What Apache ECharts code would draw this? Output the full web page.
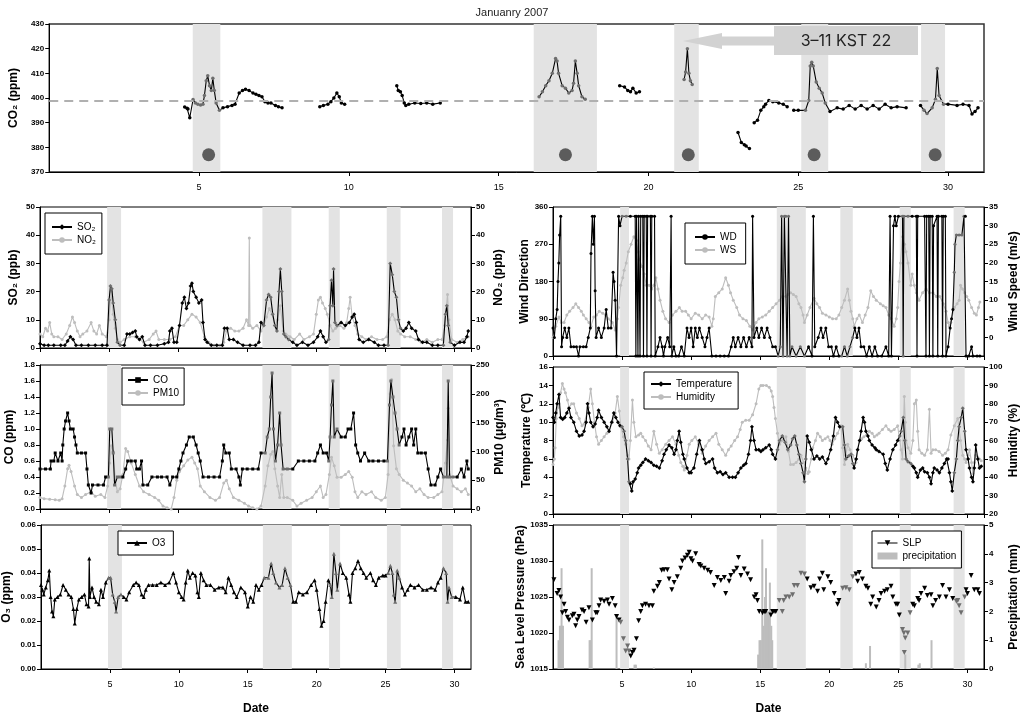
<!DOCTYPE html>
<html><head><meta charset="utf-8">
<script src="https://cdn.jsdelivr.net/npm/echarts@6/dist/echarts.min.js"></script>
<style>html,body{margin:0;padding:0;background:#fff}#c{width:1024px;height:716px}</style>
</head><body><div id="c"></div>
<script>
// ---------------- DATA (day of January 2007, value) ----------------
const bandsTop = [[4.79,5.71],[16.17,18.28],[20.86,21.68],[25.1,26.0],[29.1,29.9]];
const bandsLeft = [[4.86,5.87],[16.1,18.2],[20.9,21.7],[25.1,26.1],[29.1,29.9]];
const bandsRight = [[4.86,5.5],[16.2,18.3],[20.8,21.7],[25.1,25.9],[29.0,29.8]];
const co2Baseline = 399;
const eventDots = [[5.32,377],[17.23,377],[21.33,377],[25.53,377],[29.57,377]];
const co2Segments = [
 [[4.52,396.4],[4.6,395.8],[4.63,395.5],[4.69,392],[4.8,399.4],[4.88,398],[4.96,397.5],[5.05,397.2],[5.13,397.5],[5.18,401],[5.24,407],[5.29,409],[5.35,405],[5.41,403],[5.46,408],[5.51,403],[5.57,398],[5.68,395],[5.8,396],[5.95,396.5],[6.1,397],[6.2,397.5],[6.34,402],[6.45,403],[6.55,403.5],[6.67,403],[6.8,402],[6.9,401.5],[7.0,401],[7.1,400.5],[7.2,398.5],[7.3,398],[7.4,398],[7.55,397],[7.65,396.5],[7.77,396]],
 [[9.03,396.5],[9.15,397],[9.3,397.5],[9.4,398.5],[9.5,400],[9.6,402],[9.68,400.5],[9.75,398],[9.86,397.5]],
 [[11.6,405],[11.65,403],[11.72,402.5],[11.78,401],[11.85,398],[11.9,397],[12.0,397.5],[12.2,398],[12.4,397.8],[12.6,398],[12.8,397.5],[13.05,398]],
 [[16.35,400.5],[16.46,402.5],[16.57,405],[16.68,407],[16.79,410],[16.9,416],[16.95,415],[17.0,410],[17.12,405],[17.23,404],[17.34,402],[17.45,403],[17.5,406],[17.56,415],[17.62,410],[17.67,405],[17.78,400.5],[17.89,399.5]],
 [[19.04,405],[19.2,404.5],[19.31,403],[19.4,402.5],[19.48,404],[19.59,402],[19.7,402.5]],
 [[21.19,407.5],[21.24,410.5],[21.3,420],[21.35,410],[21.4,407],[21.46,405.5]],
 [[22.99,386],[23.1,382],[23.2,381],[23.26,380.5],[23.37,379.5]],
 [[23.53,390],[23.64,391],[23.75,395],[23.85,396.5],[23.91,397.5],[24.02,399],[24.15,398.5],[24.35,398],[24.5,397.5],[24.63,396.5]],
 [[24.85,395],[25.0,395],[25.24,395],[25.35,399],[25.4,413],[25.45,414.5],[25.5,413],[25.6,406.5],[25.7,404],[25.8,402],[25.9,398],[26.06,394.5],[26.3,396],[26.5,395.5],[26.7,397],[26.9,395.5],[27.1,397],[27.3,395.5],[27.5,397],[27.7,395.5],[27.9,397.5],[28.1,396],[28.3,396.5],[28.6,396]],
 [[29.08,397],[29.2,395],[29.3,393.7],[29.47,396],[29.58,399.5],[29.64,412],[29.7,401],[29.85,397.5],[30.0,397.5],[30.3,397],[30.5,397.5],[30.7,397],[30.8,393.5],[30.9,394.5],[31.0,396]]
];
const so2 = [[0,1.5],[0.3,1],[0.6,1],[1.0,1],[1.5,1],[1.8,1],[2.0,2.5],[2.2,4],[2.4,3],[2.6,1],[3.0,1],[3.5,1],[4.0,1],[4.5,1],[4.85,1],[5.0,17],[5.1,22],[5.2,21],[5.3,16],[5.45,10],[5.6,2],[5.8,1],[6.1,1],[6.3,5],[6.5,5],[6.7,5.5],[6.9,6],[7.0,4],[7.2,3],[7.4,4],[7.6,1],[8.0,1],[8.5,1],[9.0,1.5],[9.3,2],[9.4,6],[9.55,7],[9.7,2],[9.9,2],[10.1,8],[10.3,16],[10.45,18],[10.6,14],[10.75,16],[10.9,22],[11.0,23],[11.1,20],[11.3,18],[11.5,16],[11.7,17],[11.8,9],[11.95,3],[12.1,2],[12.4,1],[12.8,1],[13.2,1],[13.35,7],[13.55,7],[13.7,3],[14.0,3],[14.3,2],[14.7,1],[15.2,1],[15.6,1],[15.85,2],[16.0,9],[16.2,8],[16.4,17],[16.55,19],[16.7,18],[16.85,12],[17.0,8],[17.15,6],[17.3,20],[17.4,28],[17.5,20],[17.65,5],[17.8,4],[18.0,3],[18.3,2],[18.6,1],[19.0,2],[19.4,1],[19.8,2],[20.1,4],[20.3,6],[20.5,4],[20.7,2],[20.9,3],[21.0,15],[21.1,24],[21.2,15],[21.25,28],[21.35,9],[21.5,8],[21.8,9],[22.1,8],[22.4,9],[22.6,11],[22.75,12],[22.9,9],[23.1,3],[23.4,2],[23.8,3],[24.2,2],[24.5,1],[24.9,1],[25.2,1],[25.35,30],[25.5,26],[25.65,20],[25.8,18],[25.95,10],[26.1,7],[26.3,6],[26.5,7],[26.7,9],[26.9,7],[27.2,6],[27.4,3],[27.7,2],[28.0,2],[28.4,1],[28.8,1],[29.2,1],[29.35,12],[29.45,15],[29.55,8],[29.7,2],[30.0,1],[30.4,2],[30.7,2],[30.9,4],[31.0,6]];
const no2 = [[0,5],[0.2,4],[0.4,7],[0.55,6],[0.7,9],[0.85,5],[1.0,4],[1.3,4],[1.6,3],[1.9,5],[2.15,8],[2.35,11],[2.5,9],[2.7,6],[2.9,4],[3.1,5],[3.4,6],[3.7,9],[3.9,6],[4.1,5],[4.3,8],[4.5,5],[4.8,4],[5.0,10],[5.15,20],[5.3,12],[5.45,7],[5.6,3],[5.8,2],[6.1,3],[6.5,4],[6.9,4],[7.2,3],[7.5,2],[7.9,3],[8.2,5],[8.4,6],[8.6,3],[9.0,3],[9.4,3],[9.8,4],[10.1,8],[10.4,8],[10.7,10],[11.0,12],[11.3,11],[11.6,9],[11.9,4],[12.2,2],[12.6,1],[13.0,1],[13.3,2],[13.5,6],[13.8,7],[14.1,6],[14.4,6],[14.7,7],[14.95,10],[15.1,8],[15.15,39],[15.2,8],[15.4,7],[15.7,8],[16.0,6],[16.2,8],[16.4,11],[16.6,14],[16.8,12],[17.0,8],[17.2,10],[17.4,15],[17.6,6],[17.8,5],[18.1,4],[18.4,3],[18.8,5],[19.1,3],[19.5,4],[19.8,5],[20.0,12],[20.15,17],[20.3,18],[20.45,16],[20.65,14],[20.8,12],[21.0,8],[21.2,6],[21.4,7],[21.7,8],[22.0,7],[22.2,9],[22.35,14],[22.45,18],[22.6,11],[22.8,8],[23.0,5],[23.3,4],[23.6,3],[24.0,4],[24.4,3],[24.8,3],[25.1,4],[25.3,10],[25.5,12],[25.7,10],[25.9,6],[26.1,5],[26.4,4],[26.8,4],[27.2,3],[27.6,2],[28.0,3],[28.4,2],[28.8,3],[29.1,3],[29.3,8],[29.5,19],[29.6,10],[29.8,3],[30.2,2],[30.6,3],[31.0,4]];
const co = [[0,0.5],[0.4,0.5],[0.75,0.5],[0.8,0.6],[1.0,0.6],[1.1,0.7],[1.3,0.6],[1.5,0.7],[1.6,0.6],[1.65,0.8],[1.75,1.0],[1.85,1.1],[2.0,1.2],[2.1,1.1],[2.2,1.0],[2.4,1.0],[2.5,0.9],[2.6,0.8],[2.7,0.7],[3.0,0.7],[3.3,0.7],[3.4,0.5],[3.5,0.3],[3.7,0.2],[3.8,0.3],[4.2,0.3],[4.6,0.3],[4.75,0.4],[4.95,0.4],[5.05,1.0],[5.2,1.0],[5.3,0.7],[5.4,0.3],[5.6,0.4],[5.8,0.4],[6.0,0.4],[6.2,0.5],[6.35,0.6],[6.6,0.6],[6.9,0.6],[7.0,0.5],[7.2,0.5],[7.35,0.6],[7.45,0.3],[7.8,0.3],[8.1,0.4],[8.5,0.4],[8.8,0.4],[9.2,0.4],[9.4,0.3],[9.6,0.4],[9.9,0.4],[10.05,0.5],[10.2,0.6],[10.35,0.7],[10.6,0.8],[10.8,0.9],[11.1,0.9],[11.3,0.8],[11.45,0.7],[11.6,0.6],[11.8,0.4],[12.2,0.4],[12.6,0.4],[13.0,0.4],[13.2,0.6],[13.3,0.8],[13.45,0.7],[13.7,0.7],[13.85,0.5],[14.2,0.5],[14.4,0.4],[14.5,0.3],[14.65,0.5],[15.0,0.5],[15.4,0.5],[15.8,0.5],[16.0,0.7],[16.3,0.7],[16.45,0.9],[16.6,1.0],[16.7,1.4],[16.8,1.7],[16.9,1.0],[17.05,0.6],[17.2,0.8],[17.35,1.2],[17.45,0.8],[17.6,0.5],[17.9,0.5],[18.3,0.5],[18.7,0.6],[19.1,0.6],[19.5,0.6],[19.9,0.6],[20.1,0.7],[20.3,0.8],[20.5,0.7],[20.75,0.7],[20.9,0.6],[21.0,0.9],[21.1,1.3],[21.2,1.6],[21.3,0.9],[21.5,1.0],[21.8,0.9],[22.1,0.9],[22.3,1.0],[22.5,1.0],[22.7,1.2],[22.85,0.8],[23.0,0.7],[23.2,0.6],[23.5,0.7],[23.8,0.6],[24.1,0.6],[24.5,0.6],[24.9,0.6],[25.15,0.6],[25.3,1.3],[25.4,1.6],[25.55,1.4],[25.7,1.2],[25.85,1.0],[26.0,0.8],[26.2,0.9],[26.35,1.0],[26.5,0.8],[26.7,0.9],[26.9,1.0],[27.05,0.8],[27.2,1.0],[27.35,0.7],[27.6,0.7],[27.9,0.7],[28.1,0.5],[28.3,0.3],[28.6,0.3],[28.8,0.4],[29.0,0.5],[29.2,0.4],[29.45,0.4],[29.55,1.6],[29.65,0.4],[29.9,0.4],[30.2,0.4],[30.5,0.5],[30.7,0.4],[30.9,0.6],[31.0,0.5]];
const pm10 = [[0,20],[0.3,18],[0.7,17],[1.1,16],[1.4,15],[1.6,18],[1.8,40],[2.0,70],[2.1,76],[2.25,65],[2.5,40],[2.7,25],[3.0,20],[3.3,25],[3.7,30],[4.0,22],[4.4,25],[4.7,20],[4.9,40],[5.05,80],[5.15,110],[5.3,100],[5.45,50],[5.6,30],[5.8,35],[6.0,60],[6.2,105],[6.35,100],[6.6,80],[6.9,60],[7.2,40],[7.5,30],[7.9,25],[8.3,20],[8.6,15],[8.9,5],[9.2,2],[9.5,0],[9.7,20],[9.9,50],[10.1,65],[10.4,75],[10.7,85],[11.0,90],[11.2,80],[11.4,70],[11.6,40],[11.9,30],[12.3,20],[12.7,15],[13.0,20],[13.3,45],[13.5,50],[13.7,35],[14.0,20],[14.4,15],[14.8,10],[15.1,5],[15.4,2],[15.7,0],[16.0,5],[16.3,40],[16.5,75],[16.7,95],[16.85,100],[17.0,70],[17.2,40],[17.35,20],[17.5,60],[17.65,20],[17.9,20],[18.3,15],[18.6,5],[18.9,10],[19.3,15],[19.7,20],[20.0,30],[20.3,40],[20.5,20],[20.7,25],[20.95,60],[21.1,90],[21.3,75],[21.5,55],[21.8,55],[22.1,60],[22.35,65],[22.6,55],[22.8,30],[23.0,20],[23.3,30],[23.6,25],[24.0,30],[24.3,20],[24.7,15],[25.0,20],[25.2,60],[25.35,200],[25.45,225],[25.6,110],[25.8,70],[26.0,60],[26.3,50],[26.6,45],[26.9,40],[27.2,30],[27.5,35],[27.8,25],[28.1,20],[28.5,20],[28.8,25],[29.1,30],[29.35,80],[29.5,120],[29.55,175],[29.65,60],[29.9,40],[30.2,35],[30.5,30],[30.8,35],[31.0,25]];
const o3 = [[0,0.035],[0.1,0.033],[0.2,0.031],[0.35,0.034],[0.5,0.037],[0.6,0.041],[0.7,0.030],[0.8,0.024],[0.9,0.022],[1.0,0.029],[1.2,0.030],[1.4,0.031],[1.6,0.035],[1.8,0.033],[2.0,0.031],[2.2,0.030],[2.35,0.025],[2.45,0.019],[2.6,0.025],[2.75,0.029],[2.95,0.030],[3.15,0.031],[3.3,0.027],[3.45,0.026],[3.5,0.046],[3.55,0.030],[3.7,0.034],[3.85,0.030],[4.0,0.028],[4.2,0.027],[4.35,0.033],[4.5,0.030],[4.7,0.036],[4.9,0.038],[5.05,0.038],[5.2,0.031],[5.35,0.028],[5.45,0.024],[5.6,0.030],[5.8,0.031],[6.0,0.030],[6.2,0.029],[6.4,0.032],[6.7,0.035],[6.9,0.036],[7.1,0.035],[7.3,0.031],[7.45,0.030],[7.6,0.033],[7.8,0.035],[8.1,0.035],[8.4,0.035],[8.7,0.036],[9.0,0.035],[9.3,0.036],[9.6,0.040],[9.8,0.036],[10.0,0.032],[10.2,0.030],[10.35,0.029],[10.5,0.036],[10.65,0.041],[10.8,0.038],[11.0,0.040],[11.2,0.039],[11.35,0.032],[11.45,0.030],[11.6,0.040],[11.8,0.037],[12.0,0.035],[12.3,0.035],[12.6,0.033],[12.9,0.034],[13.2,0.034],[13.4,0.032],[13.6,0.038],[13.8,0.035],[14.0,0.032],[14.2,0.030],[14.5,0.034],[14.8,0.032],[15.0,0.026],[15.2,0.030],[15.4,0.028],[15.6,0.035],[15.8,0.033],[16.0,0.035],[16.2,0.038],[16.5,0.038],[16.7,0.044],[16.85,0.040],[17.05,0.036],[17.3,0.034],[17.5,0.035],[17.7,0.042],[17.9,0.038],[18.1,0.035],[18.3,0.028],[18.5,0.028],[18.7,0.032],[19.0,0.031],[19.3,0.032],[19.6,0.035],[19.85,0.037],[20.0,0.033],[20.2,0.025],[20.35,0.018],[20.5,0.020],[20.65,0.028],[20.85,0.037],[21.0,0.035],[21.1,0.030],[21.25,0.048],[21.4,0.040],[21.5,0.033],[21.7,0.044],[21.9,0.040],[22.15,0.038],[22.35,0.031],[22.45,0.028],[22.6,0.040],[22.8,0.042],[23.0,0.045],[23.2,0.042],[23.4,0.040],[23.6,0.038],[23.9,0.040],[24.1,0.037],[24.3,0.035],[24.5,0.038],[24.8,0.039],[25.0,0.039],[25.2,0.040],[25.35,0.043],[25.5,0.040],[25.6,0.031],[25.7,0.028],[25.85,0.041],[26.0,0.038],[26.2,0.034],[26.4,0.031],[26.6,0.033],[26.8,0.035],[27.1,0.034],[27.4,0.035],[27.7,0.033],[28.0,0.033],[28.3,0.034],[28.6,0.033],[28.8,0.036],[29.0,0.038],[29.2,0.042],[29.4,0.040],[29.5,0.028],[29.6,0.034],[29.8,0.030],[30.1,0.030],[30.4,0.029],[30.6,0.034],[30.8,0.028],[31.0,0.028]];
const wd = [[0,67.5],[0.1,45],[0.2,90],[0.3,112.5],[0.36,180],[0.42,225],[0.48,292.5],[0.56,337.5],[0.62,22.5],[0.7,45],[0.85,67.5],[1.0,45],[1.15,67.5],[1.3,22.5],[1.5,22.5],[1.7,22.5],[1.85,0],[1.95,22.5],[2.2,22.5],[2.4,22.5],[2.55,45],[2.7,67.5],[2.75,247.5],[2.85,337.5],[2.92,270],[3.0,337.5],[3.05,157.5],[3.12,45],[3.3,67.5],[3.5,45],[3.7,67.5],[3.85,112.5],[4.0,67.5],[4.2,67.5],[4.35,202.5],[4.42,180],[4.5,135],[4.6,0],[4.75,337.5],[4.85,315],[5.0,337.5],[5.3,337.5],[5.6,337.5],[5.95,337.5],[6.0,0],[6.05,337.5],[6.15,0],[6.2,337.5],[6.3,0],[6.35,337.5],[6.5,337.5],[6.55,0],[6.6,337.5],[6.75,337.5],[6.8,0],[6.85,337.5],[7.05,337.5],[7.1,0],[7.15,337.5],[7.35,337.5],[7.4,0],[7.6,22.5],[7.75,45],[7.9,22.5],[8.0,0],[8.1,22.5],[8.3,45],[8.45,22.5],[8.55,337.5],[8.6,0],[8.75,22.5],[8.9,0],[9.1,0],[9.3,22.5],[9.5,0],[9.7,67.5],[9.85,45],[10.0,67.5],[10.15,22.5],[10.3,67.5],[10.45,45],[10.6,67.5],[10.8,45],[11.0,22.5],[11.15,45],[11.3,67.5],[11.5,0],[11.8,0],[12.1,0],[12.4,0],[12.7,0],[12.9,22.5],[13.05,45],[13.2,22.5],[13.4,45],[13.6,22.5],[13.8,45],[14.0,22.5],[14.2,45],[14.4,22.5],[14.45,337.5],[14.55,45],[14.75,67.5],[14.9,45],[15.1,67.5],[15.3,45],[15.5,67.5],[15.7,45],[15.9,22.5],[16.1,22.5],[16.3,0],[16.45,22.5],[16.55,337.5],[16.65,0],[16.75,337.5],[16.85,337.5],[16.95,0],[17.05,337.5],[17.15,0],[17.3,22.5],[17.6,0],[17.9,22.5],[18.2,0],[18.5,22.5],[18.75,0],[18.85,337.5],[18.95,22.5],[19.2,45],[19.4,67.5],[19.55,45],[19.75,67.5],[19.95,22.5],[20.15,22.5],[20.3,0],[20.5,22.5],[20.7,0],[20.9,0],[21.1,22.5],[21.3,0],[21.5,22.5],[21.7,45],[21.85,67.5],[22.0,45],[22.15,67.5],[22.3,22.5],[22.5,22.5],[22.7,0],[22.9,22.5],[23.1,0],[23.3,22.5],[23.5,0],[23.8,0],[24.1,22.5],[24.3,0],[24.4,337.5],[24.5,0],[24.65,315],[24.75,337.5],[24.85,315],[25.0,337.5],[25.3,337.5],[25.35,0],[25.4,337.5],[25.7,337.5],[26.0,337.5],[26.3,337.5],[26.35,0],[26.4,337.5],[26.9,337.5],[27.0,0],[27.05,337.5],[27.2,337.5],[27.25,0],[27.3,337.5],[27.45,337.5],[27.5,0],[27.55,315],[27.8,337.5],[27.85,0],[27.9,337.5],[28.15,337.5],[28.2,0],[28.25,337.5],[28.4,337.5],[28.45,0],[28.6,22.5],[28.75,67.5],[28.85,90],[28.95,112.5],[29.05,202.5],[29.1,270],[29.2,292.5],[29.4,292.5],[29.6,292.5],[29.75,337.5],[29.85,337.5],[29.9,0],[30.1,0],[30.3,22.5],[30.4,0],[30.7,0],[30.9,0]];
const ws = [[0,0],[0.2,3],[0.43,5.5],[0.6,4],[0.8,4],[1.0,6],[1.2,7],[1.45,8],[1.65,9],[1.85,8],[2.05,7],[2.2,6],[2.4,5],[2.6,4],[2.75,3],[2.95,5.5],[3.15,6],[3.35,7],[3.6,6.5],[3.8,6],[4.0,5],[4.3,4],[4.5,2],[4.65,5],[4.75,8],[4.9,14],[5.05,16],[5.15,18],[5.3,20],[5.45,23],[5.65,25],[5.85,27],[6.05,26],[6.15,23],[6.25,21],[6.45,19],[6.6,17],[6.75,14],[6.95,14],[7.15,13],[7.3,14],[7.45,16],[7.6,13],[7.75,10],[7.95,7],[8.15,5],[8.4,4],[8.65,6],[8.9,7],[9.15,8],[9.35,7],[9.6,7],[9.8,6],[10.0,5],[10.3,6.5],[10.55,6],[10.8,5],[11.05,6],[11.3,5.5],[11.5,3],[11.6,5],[11.75,11],[12.0,12],[12.25,13],[12.5,16],[12.7,14],[12.85,12],[13.05,10],[13.3,8],[13.5,6],[13.75,5],[14.0,4.5],[14.25,3],[14.45,2],[14.7,4],[14.9,5],[15.15,5.5],[15.4,6],[15.65,7],[15.9,8],[16.15,9],[16.4,10],[16.6,11],[16.86,11],[17.0,11.5],[17.2,12],[17.4,11.5],[17.6,11],[17.8,9],[17.95,8],[18.1,6],[18.2,4],[18.4,6],[18.6,8],[18.9,10.5],[19.1,9],[19.3,8],[19.5,6.5],[19.76,6],[20.0,5.5],[20.24,5],[20.5,5],[20.7,6],[20.9,8],[21.1,10],[21.33,13],[21.45,10],[21.57,7],[21.7,5],[21.8,3],[22.0,5],[22.17,6],[22.4,4],[22.6,6],[22.8,8],[23.0,12.5],[23.2,11],[23.4,10],[23.7,9],[23.9,8.5],[24.1,8],[24.3,6],[24.47,5],[24.7,3],[24.85,5],[24.95,8],[25.05,15],[25.15,20],[25.3,27],[25.45,25],[25.55,23],[25.7,20],[25.9,14],[26.0,17],[26.15,14],[26.3,12],[26.5,10],[26.75,12],[27.0,13],[27.25,12],[27.5,12],[27.75,11],[28.0,11],[28.25,9],[28.45,7],[28.6,4],[28.7,3],[28.8,4],[29.05,8],[29.25,9],[29.4,10],[29.5,14],[29.65,13],[29.8,12],[29.95,11],[30.1,10],[30.3,8],[30.5,6.5],[30.65,6],[30.8,8],[30.9,9.5]];
const temperature = [[0,10.5],[0.1,10],[0.2,11],[0.3,12],[0.43,13],[0.55,10.5],[0.7,10.3],[0.85,10.5],[1.0,11],[1.16,11.5],[1.3,10.5],[1.5,10],[1.7,9],[1.9,8.5],[2.1,8.6],[2.25,9],[2.4,10],[2.5,12],[2.6,11],[2.73,10],[2.9,9.5],[3.05,9.8],[3.2,10.5],[3.3,11.3],[3.5,10.5],[3.7,10],[3.9,9.5],[4.06,9],[4.25,10],[4.4,11],[4.55,10.5],[4.7,10],[4.85,9.6],[5.0,9.5],[5.15,9],[5.26,8],[5.4,6],[5.5,3.5],[5.6,3.3],[5.7,2.5],[5.8,3.5],[5.95,3.8],[6.1,4.5],[6.2,5],[6.35,5.3],[6.5,5.6],[6.7,6],[6.9,5.8],[7.1,5.6],[7.3,5.3],[7.5,5.2],[7.7,5],[7.9,5.8],[8.04,6.5],[8.2,7],[8.4,7.5],[8.6,7.2],[8.77,6.5],[8.9,7],[9.0,8],[9.13,9],[9.25,7.8],[9.4,6.5],[9.5,6],[9.7,5],[9.86,4.5],[10.0,4.5],[10.2,5],[10.4,6.5],[10.6,8],[10.8,7],[10.95,6],[11.06,5.5],[11.3,5.7],[11.55,6],[11.7,5],[11.9,4.5],[12.1,4.6],[12.3,4.3],[12.5,4.5],[12.75,4],[13.0,4],[13.2,4],[13.4,4.5],[13.6,5],[13.8,5.3],[13.96,5.5],[14.15,6.5],[14.3,8],[14.4,9.5],[14.55,8],[14.7,7],[14.9,7],[15.05,6.8],[15.2,7],[15.4,7.2],[15.65,7.5],[15.8,7],[15.9,6.5],[16.1,6],[16.25,7],[16.4,8],[16.6,8.5],[16.8,7.8],[17.0,7],[17.2,7.5],[17.35,8.2],[17.5,8.5],[17.65,7.5],[17.8,6.5],[17.95,5.5],[18.1,4.5],[18.2,3.5],[18.3,6],[18.4,8.5],[18.55,7.8],[18.7,7],[18.9,6],[19.1,6.3],[19.3,6],[19.5,6.2],[19.76,5.5],[19.9,6],[20.1,7],[20.3,8.5],[20.45,10.5],[20.6,10],[20.75,9.5],[20.97,9.5],[21.1,7.5],[21.2,6],[21.4,6.3],[21.57,6.5],[21.7,5.5],[21.8,5],[21.95,6],[22.05,7],[22.2,8],[22.3,9],[22.45,10.5],[22.55,10],[22.65,9],[22.8,8.5],[22.9,8],[23.1,7.5],[23.3,7.2],[23.4,7],[23.6,6.8],[23.9,6.5],[24.05,5.5],[24.2,4.8],[24.4,6],[24.6,7],[24.8,7.5],[24.95,8],[25.1,8.5],[25.2,9],[25.36,10.5],[25.46,8],[25.56,6],[25.7,5.7],[25.9,5.5],[26.05,5.2],[26.16,5],[26.3,4.5],[26.4,4],[26.6,4.8],[26.76,5],[26.9,4.6],[27.1,4.5],[27.25,4],[27.37,3.3],[27.5,4.5],[27.6,5],[27.8,4.8],[27.97,4.5],[28.15,5],[28.33,5.5],[28.5,6],[28.6,6],[28.7,4.5],[28.8,3.5],[28.9,2.5],[29.05,4.5],[29.2,6],[29.3,8],[29.4,9.5],[29.55,10.5],[29.66,11.5],[29.8,9],[29.9,7],[30.05,6],[30.15,5],[30.3,4],[30.4,3.5],[30.5,5],[30.6,7.5],[30.75,6],[30.87,5],[31.0,5.2]];
const humidity = [[0,47],[0.1,50],[0.15,56],[0.24,72],[0.35,78],[0.43,80],[0.55,86],[0.68,91],[0.8,88],[0.9,86],[1.05,82],[1.16,78],[1.35,80],[1.5,80],[1.7,75],[1.9,72],[2.1,68],[2.25,69],[2.37,70],[2.55,78],[2.73,88],[2.85,80],[3.0,70],[3.15,62],[3.3,58],[3.5,60],[3.7,62],[3.9,64],[4.06,65],[4.3,70],[4.5,75],[4.66,84],[4.8,76],[4.9,68],[5.1,62],[5.26,58],[5.4,52],[5.5,50],[5.6,60],[5.75,82],[5.85,70],[6.0,62],[6.2,63],[6.35,64],[6.5,62],[6.7,60],[6.9,57],[7.1,55],[7.3,65],[7.5,58],[7.7,53],[7.9,55],[8.16,58],[8.4,60],[8.65,62],[8.9,58],[9.1,52],[9.25,48],[9.4,46],[9.5,44],[9.7,52],[9.86,58],[10.05,60],[10.3,62],[10.55,58],[10.8,53],[11.05,57],[11.3,60],[11.55,62],[11.8,64],[12.0,58],[12.25,55],[12.5,52],[12.7,55],[12.9,57],[13.15,60],[13.36,62],[13.55,66],[13.7,70],[13.95,71],[14.2,71],[14.45,74],[14.7,80],[14.9,88],[15.05,90],[15.2,90],[15.45,90],[15.65,89],[15.8,87],[15.9,84],[16.0,78],[16.1,72],[16.25,64],[16.4,58],[16.6,60],[16.86,62],[17.05,54],[17.2,47],[17.4,47],[17.6,48],[17.8,50],[17.95,52],[18.15,48],[18.3,45],[18.45,42],[18.55,43],[18.7,50],[18.8,56],[19.0,60],[19.15,64],[19.35,62],[19.5,60],[19.7,61],[19.9,62],[20.05,60],[20.2,58],[20.4,61],[20.6,64],[20.85,68],[20.97,56],[21.1,47],[21.2,52],[21.33,58],[21.5,55],[21.7,52],[21.93,48],[22.05,55],[22.17,60],[22.35,61],[22.5,62],[22.7,63],[22.9,65],[23.1,64],[23.26,62],[23.45,63],[23.6,64],[23.85,66],[24.1,68],[24.3,66],[24.47,65],[24.7,66],[24.95,68],[25.1,60],[25.2,55],[25.3,50],[25.43,84],[25.5,70],[25.56,60],[25.7,56],[25.9,53],[26.05,60],[26.16,80],[26.3,82],[26.4,65],[26.5,55],[26.7,53],[26.9,52],[27.1,55],[27.25,77],[27.37,53],[27.5,55],[27.7,55],[27.95,54],[28.2,52],[28.4,53],[28.6,55],[28.8,63],[29.05,68],[29.3,72],[29.5,60],[29.66,52],[29.8,50],[29.9,48],[30.05,52],[30.15,55],[30.3,48],[30.4,42],[30.5,48],[30.6,52],[30.75,51],[30.87,50],[31.0,49]];
const slp = [[0.07,1027.4],[0.3,1025.5],[0.43,1025.9],[0.55,1025],[0.68,1022.8],[0.8,1024],[0.92,1023],[1.04,1022.2],[1.16,1021.8],[1.4,1022.4],[1.52,1022.6],[1.64,1021],[1.76,1021.8],[1.88,1022.3],[2.1,1023.2],[2.25,1023],[2.4,1021.5],[2.6,1023.5],[2.85,1021.8],[3.1,1022.8],[3.2,1022.8],[3.33,1023.8],[3.45,1024.6],[3.7,1024.4],[3.94,1024.6],[4.06,1024],[4.3,1024.8],[4.5,1023.8],[4.6,1022.3],[4.78,1021.8],[4.9,1021.5],[5.1,1019.2],[5.26,1017.5],[5.4,1018.2],[5.5,1017.5],[5.63,1016.8],[5.75,1017.3],[5.87,1017.6],[6.04,1019.2],[6.2,1021.7],[6.35,1023],[6.47,1023.8],[6.7,1024],[6.95,1023.8],[7.2,1023.8],[7.3,1025.8],[7.56,1026.5],[7.7,1027],[7.87,1028.7],[8.04,1028.8],[8.28,1028.8],[8.4,1027.5],[8.6,1026],[8.77,1027],[9.0,1027.8],[9.25,1029],[9.37,1030],[9.56,1030.4],[9.73,1030.8],[9.86,1031.2],[9.98,1030.3],[10.1,1030],[10.33,1031],[10.58,1029.5],[10.7,1029.3],[10.94,1029],[11.2,1028.7],[11.4,1028.4],[11.67,1026.6],[11.9,1027.7],[12.15,1027.3],[12.4,1027.7],[12.5,1025.5],[12.75,1027.2],[12.87,1028],[13.1,1028.5],[13.3,1029],[13.43,1030.5],[13.6,1028],[13.84,1028.9],[14.08,1028.2],[14.3,1027.4],[14.57,1025],[14.7,1025.3],[14.8,1024.5],[14.93,1023],[15.17,1022.8],[15.3,1023],[15.4,1023],[15.77,1022.5],[15.9,1023],[16.0,1023],[16.13,1023],[16.38,1024.5],[16.6,1023],[16.7,1024.5],[16.86,1025],[17.1,1025],[17.34,1025.3],[17.46,1026.6],[17.7,1026.6],[17.95,1028.3],[18.2,1028.2],[18.4,1027.5],[18.67,1026.3],[18.9,1026.5],[19.15,1025.8],[19.3,1027.5],[19.5,1028.3],[19.6,1026],[19.9,1027.8],[20.1,1027],[20.36,1025.5],[20.6,1024],[20.7,1024.5],[20.97,1026.2],[21.2,1026.3],[21.45,1026],[21.7,1027.8],[21.93,1028.2],[22.05,1027.2],[22.17,1028.4],[22.4,1027.5],[22.65,1026.5],[22.8,1026.2],[23.0,1024],[23.14,1025],[23.4,1023.6],[23.6,1024.5],[23.75,1025.5],[24.0,1025.8],[24.2,1026],[24.47,1026.5],[24.6,1025],[24.83,1024],[24.95,1024],[25.07,1022.5],[25.3,1020.5],[25.4,1020],[25.43,1017.3],[25.5,1019.3],[25.68,1020],[25.85,1022.8],[26.04,1024],[26.16,1023.8],[26.4,1024.8],[26.5,1024.5],[26.64,1025.5],[26.9,1026.2],[27.1,1025.2],[27.37,1025.3],[27.5,1023.8],[27.7,1024.5],[27.97,1025],[28.2,1026.6],[28.45,1025],[28.7,1026],[28.94,1024.8],[29.2,1024.4],[29.3,1024.5],[29.4,1023.8],[29.54,1022.8],[29.8,1025],[29.9,1026],[30.0,1025.5],[30.27,1028],[30.5,1026],[30.75,1026],[30.87,1025.5]];
const precipitation = [[0.4,1.0],[0.5,1.5],[0.55,1.5],[0.62,3.5],[0.68,1.5],[0.72,1.5],[2.65,1.0],[2.72,1.0],[2.8,3.5],[4.6,1.8],[5.9,0.15],[6.0,0.15],[7.3,0.05],[14.85,0.5],[14.95,1.0],[15.05,1.0],[15.15,4.5],[15.25,1.5],[15.35,2.5],[15.42,3.5],[15.5,2.0],[15.6,2.0],[15.7,3.0],[15.8,1.5],[15.87,1.0],[22.65,0.2],[22.95,0.8],[25.5,0.5],[26.45,0.15],[26.55,0.2],[27.4,1.0]];

// ---------------- STYLE ----------------
const NARROW = "'Liberation Sans Narrow','Arial Narrow','Liberation Sans',Arial,sans-serif";
const SANS = "'Liberation Sans',Arial,sans-serif";
const BAND = '#e3e3e3';
const GREY = '#bdbdbd';

const co2Data = [];
co2Segments.forEach((s, i) => { if (i) co2Data.push([s[0][0] - 0.01, null]); s.forEach(p => co2Data.push(p)); });

function xAx(g, labels, name) {
  return {type:'value', gridIndex:g, min:0, max:31.2, interval:5,
    axisLine:{show:true, lineStyle:{color:'#000'}}, axisTick:{show:true, length:4, lineStyle:{color:'#000'}},
    splitLine:{show:false},
    axisLabel:{show:labels, showMinLabel:false, showMaxLabel:false, margin:11, fontSize:9, fontFamily:NARROW, color:'#000'},
    name:name||'', nameLocation:'middle', nameGap:34,
    nameTextStyle:{fontSize:12, fontWeight:'bold', fontFamily:SANS, color:'#000'}};
}
function yAx(g, pos, min, max, iv, name, gap, fmt, extra) {
  const ax = {type:'value', gridIndex:g, position:pos, min:min, max:max, interval:iv,
    axisLine:{show:true, onZero:false, lineStyle:{color:'#000'}}, axisTick:{show:true, length:4, lineStyle:{color:'#000'}},
    splitLine:{show:false},
    axisLabel:{fontSize:8, fontWeight:'bold', fontFamily:NARROW, color:'#000', margin:5, formatter:fmt || (v => String(v))},
    name:name, nameLocation:'middle', nameRotate:90, nameGap:gap,
    nameTextStyle:{fontSize:12, fontWeight:'bold', fontFamily:SANS, color:'#000'}};
  if (extra) Object.assign(ax.axisLabel, extra);
  return ax;
}
function bandArea(bands) {
  return {silent:true, itemStyle:{color:BAND}, data:bands.map(b => [{xAxis:b[0]}, {xAxis:b[1]}])};
}
function darkLine(name, g, y, data, symbol, size) {
  return {name:name, type:'line', xAxisIndex:g, yAxisIndex:y, data:data, symbol:symbol||'circle', symbolSize:size||3,
    showSymbol:true, lineStyle:{width:1.1, color:'#000'}, itemStyle:{color:'#000'}, animation:false, z:3};
}
function greyLine(name, g, y, data, bands) {
  return {name:name, type:'line', xAxisIndex:g, yAxisIndex:y, data:data, symbol:'circle', symbolSize:3,
    showSymbol:true, lineStyle:{width:1.1, color:GREY}, itemStyle:{color:GREY}, animation:false, z:2,
    markArea:bandArea(bands)};
}
function leg(names, left, top, padding) {
  return {data:names, left:left, top:top, orient:'vertical', itemGap:3, itemWidth:20, itemHeight:7,
    padding:padding, borderColor:'#000', borderWidth:1, backgroundColor:'#fff', selectedMode:false,
    textStyle:{fontSize:10, fontFamily:NARROW, color:'#000'}};
}
function vm(idx, bands) {
  return {type:'piecewise', show:false, dimension:0, seriesIndex:idx,
    pieces:bands.map(b => ({gte:b[0], lte:b[1], color:'#6e6e6e'})), outOfRange:{color:'#000'}};
}

const option = {
  animation:false,
  backgroundColor:'#fff',
  title:{text:'Januanry 2007', left:'center', top:2, textStyle:{fontSize:11, fontWeight:'normal', fontFamily:SANS, color:'#222'}},
  grid:[
    {left:39, width:945, top:24, height:148, show:true, borderColor:'#333', borderWidth:1.5},
    {left:40, width:431, top:207, height:141, show:true, borderColor:'#000', borderWidth:1},
    {left:40, width:431, top:365, height:144, show:true, borderColor:'#000', borderWidth:1},
    {left:40, width:431, top:525, height:148, show:true, borderColor:'#000', borderWidth:1},
    {left:553, width:431, top:207, height:149, show:true, borderColor:'#000', borderWidth:1},
    {left:553, width:431, top:367, height:147, show:true, borderColor:'#000', borderWidth:1},
    {left:553, width:431, top:525, height:147, show:true, borderColor:'#000', borderWidth:1}
  ],
  xAxis:[xAx(0,true), xAx(1,false), xAx(2,false), xAx(3,true,'Date'), xAx(4,false), xAx(5,false), xAx(6,true,'Date')],
  yAxis:[
    yAx(0,'left',370,430,10,'CO\u2082 (ppm)',20),
    yAx(1,'left',0,50,10,'SO\u2082 (ppb)',20),
    yAx(1,'right',0,50,10,'NO\u2082 (ppb)',22),
    yAx(2,'left',0,1.8,0.2,'CO (ppm)',24, v => v.toFixed(1)),
    yAx(2,'right',0,250,50,'PM10 (\u03bcg/m\u00b3)',22),
    yAx(3,'left',0,0.06,0.01,'O\u2083 (ppm)',28, v => v.toFixed(2)),
    yAx(4,'left',0,360,90,'Wind Direction',20),
    yAx(4,'right',-5,35,5,'Wind Speed (m/s)',24, undefined, {showMinLabel:false}),
    yAx(5,'left',0,16,2,'Temperature (\u2103)',20),
    yAx(5,'right',20,100,10,'Humidity (%)',24),
    yAx(6,'left',1015,1035,5,'Sea Level Pressure (hPa)',26),
    yAx(6,'right',0,5,1,'Precipitation (mm)',24)
  ],
  legend:[
    leg(['SO\u2082','NO\u2082'], 45, 213, [9,6,9,6]),
    leg(['CO','PM10'], 122, 368, [7,5,7,5]),
    leg(['O3'], 118, 531, [7,8,7,8]),
    leg(['WD','WS'], 685, 223, [9,9,9,9]),
    leg(['Temperature','Humidity'], 644, 372, [7,6,7,6]),
    {data:[{name:'SLP', lineStyle:{width:1, color:'#000', opacity:1}}, {name:'precipitation', icon:'rect'}],
      left:872, top:531, orient:'vertical', itemGap:3, itemWidth:20, itemHeight:7, padding:[7,5,7,5],
      borderColor:'#000', borderWidth:1, backgroundColor:'#fff', selectedMode:false,
      textStyle:{fontSize:10, fontFamily:NARROW, color:'#000'}}
  ],
  visualMap:[vm([0], bandsTop), vm([3,5,6], bandsLeft), vm([8,10,12], bandsRight)],
  series:[
    Object.assign(darkLine('CO2', 0, 0, co2Data, 'circle', 3.5), {connectNulls:false, markArea:bandArea(bandsTop),
      markLine:{silent:true, symbol:['none','none'], label:{show:false}, lineStyle:{color:'#b0b0b0', type:[9,6], width:2},
        data:[{yAxis:co2Baseline}]}}),
    {name:'events', type:'scatter', xAxisIndex:0, yAxisIndex:0, data:eventDots, symbolSize:13, itemStyle:{color:'#3a3a3a'}, z:4},
    greyLine('NO\u2082', 1, 2, no2, bandsLeft),
    darkLine('SO\u2082', 1, 1, so2, 'diamond', 4),
    greyLine('PM10', 2, 4, pm10, bandsLeft),
    darkLine('CO', 2, 3, co, 'rect', 3),
    Object.assign(darkLine('O3', 3, 5, o3, 'triangle', 4), {markArea:bandArea(bandsLeft)}),
    greyLine('WS', 4, 7, ws, bandsRight),
    darkLine('WD', 4, 6, wd, 'circle', 3),
    greyLine('Humidity', 5, 9, humidity, bandsRight),
    darkLine('Temperature', 5, 8, temperature, 'diamond', 4),
    {name:'precipitation', type:'bar', xAxisIndex:6, yAxisIndex:11, data:precipitation, barWidth:2,
      itemStyle:{color:GREY}, markArea:bandArea(bandsRight), z:2},
    Object.assign(darkLine('SLP', 6, 10, slp, 'triangle', 5), {symbolRotate:180, lineStyle:{width:0, opacity:0}})
  ],
  graphic:[
    {type:'polygon', shape:{points:[[683,41],[722,33],[722,36.5],[774,36.5],[774,45.5],[722,45.5],[722,49]]}, style:{fill:'#d2d2d2'}, z:10},
    {type:'rect', shape:{x:774, y:26, width:144, height:29}, style:{fill:'#d2d2d2'}, z:10},
    {type:'text', x:846, y:41, style:{text:'3\u201311 KST 22', fill:'#222', font:'16px Inter, "Noto Sans", sans-serif', align:'center', verticalAlign:'middle'}, z:11}
  ]
};
const chart = echarts.init(document.getElementById('c'));
chart.setOption(option);
</script>
</body></html>
